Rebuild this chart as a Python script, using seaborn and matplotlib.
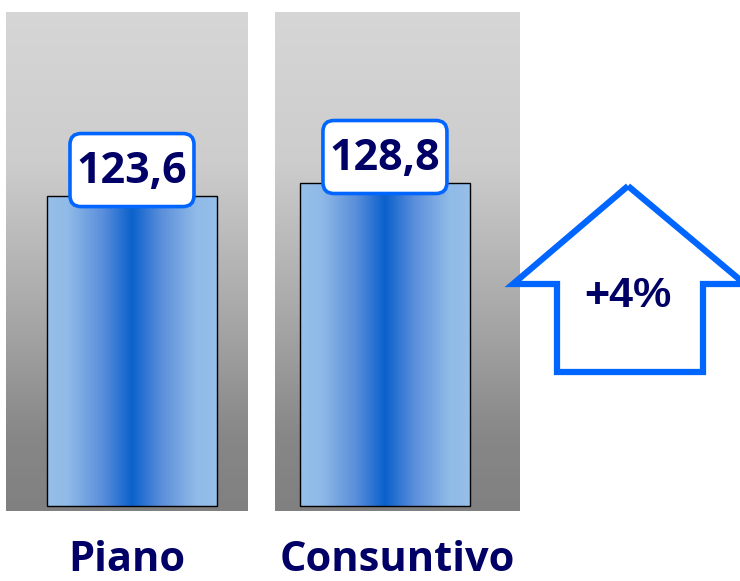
import numpy as np
import pandas as pd
import matplotlib
matplotlib.use("Agg")
import matplotlib.pyplot as plt
import seaborn as sns
from matplotlib.colors import LinearSegmentedColormap
from matplotlib.patches import Polygon, FancyBboxPatch

# dati
categorie = ["Piano", "Consuntivo"]
valori = [123.6, 128.8]
etichette = ["123,6", "128,8"]

df = pd.DataFrame({"categoria": categorie, "valore": valori})
variazione = (valori[1] / valori[0] - 1) * 100
testo_var = "+{:.0f}%".format(variazione)

sns.set_theme(style="white")
plt.rcParams["font.family"] = ["Open Sans", "DejaVu Sans"]

navy = "#000066"
blu = "#0066ff"

grigio = LinearSegmentedColormap.from_list(
    "grigio", [(0, "#d6d6d6"), (0.3, "#cdcdcd"), (0.6, "#a9a9a9"), (0.85, "#878787"), (1, "#808080")])
barra = LinearSegmentedColormap.from_list(
    "barra", [(0, "#96bfe9"), (0.12, "#90bae7"), (0.33, "#5a8edb"), (0.5, "#0b61cc"),
              (0.67, "#5a8edb"), (0.88, "#90bae7"), (1, "#96bfe9")])

W, H = 740, 581
fig = plt.figure(figsize=(W / 100, H / 100), dpi=100)
ax = fig.add_axes([6 / W, 70 / H, 513 / W, 499 / H])

sns.barplot(data=df, x="categoria", y="valore", ax=ax, width=0.67,
            edgecolor="black", linewidth=1.0, zorder=3)

ymin, ymax = -2.0, 197.0
ax.set_xlim(-0.498, 1.53)
ax.set_ylim(ymin, ymax)

# pannelli grigi sfumati dietro ogni barra
pannelli = [(-0.498, 0.455), (0.565, 1.53)]
grad_v = np.linspace(0, 1, 256).reshape(-1, 1)
for x0, x1 in pannelli:
    ax.imshow(grad_v, cmap=grigio, aspect="auto", extent=(x0, x1, ymin, ymax),
              origin="upper", zorder=0)

ax.set_xlim(-0.498, 1.53)
ax.set_ylim(ymin, ymax)
ax.set_xlabel("")
ax.set_ylabel("")
ax.set_yticks([])
ax.set_xticks([])
for s in ax.spines.values():
    s.set_visible(False)
ax.set_facecolor("none")

# livello sopra in pixel per riquadri e freccia
ov = fig.add_axes([0, 0, 1, 1])
ov.set_xlim(0, W)
ov.set_ylim(H, 0)
ov.axis("off")
ov.patch.set_alpha(0)

# sfumatura orizzontale delle barre + etichette valore
grad_h = np.linspace(0, 1, 256).reshape(1, -1)
for p, lab in zip(ax.patches, etichette):
    x, w, h = p.get_x(), p.get_width(), p.get_height()
    ax.imshow(grad_h, cmap=barra, aspect="auto", extent=(x, x + w, 0, h), zorder=2)
    p.set_facecolor("none")
    px, py = ax.transData.transform((x + w / 2, h))
    cx, cy = px, H - py - 26
    bw, bh = 124, 73
    ov.add_patch(FancyBboxPatch((cx - bw / 2, cy - bh / 2), bw, bh,
                                boxstyle="round,pad=0,rounding_size=11",
                                fc="white", ec=blu, lw=2.6, zorder=4))
    ov.text(cx, cy + 1, lab, ha="center", va="center", fontsize=31, fontweight="bold",
            color=navy, zorder=5)

# etichette categorie, centrate sui pannelli
for (x0, x1), c in zip(pannelli, categorie):
    ax.text((x0 + x1) / 2, -0.1, c, transform=ax.get_xaxis_transform(), ha="center",
            va="center", fontsize=30, fontweight="bold", color=navy)

# freccia verso l'alto con la variazione
freccia = [(628, 186), (745, 284), (703, 284), (703, 372), (557, 372), (557, 284), (513, 284)]
ov.add_patch(Polygon(freccia, closed=True, fill=False, ec=blu, lw=4.5, joinstyle="miter"))
ov.text(628, 296, testo_var, ha="center", va="center", fontsize=31, fontweight="bold",
        color=navy, family=["Liberation Sans", "DejaVu Sans"])

fig.savefig("out.png", dpi=100)
